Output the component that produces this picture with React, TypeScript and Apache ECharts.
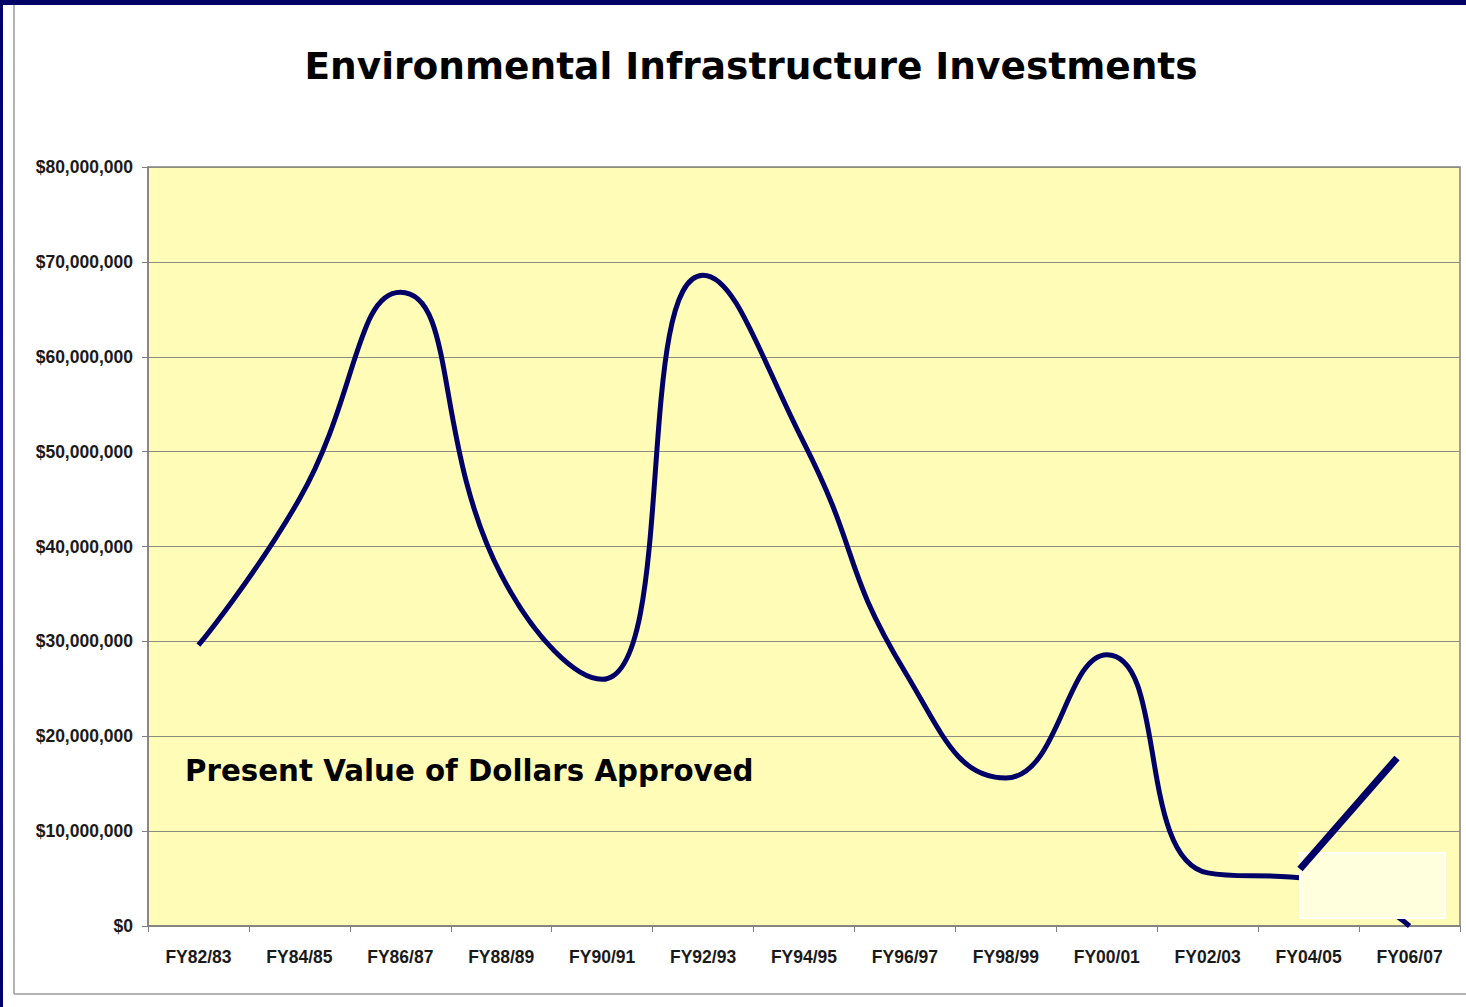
import React, { useEffect, useRef } from "react";
import * as echarts from "echarts";

const categories = [
  "FY82/83", "FY84/85", "FY86/87", "FY88/89", "FY90/91", "FY92/93", "FY94/95",
  "FY96/97", "FY98/99", "FY00/01", "FY02/03", "FY04/05", "FY06/07",
];
// Present value of dollars approved (USD)
const dollarsApproved = [
  29600000, 45000000, 66800000, 37000000, 26000000, 68600000, 50900000,
  26800000, 15600000, 28600000, 5600000, 5000000, 0,
];
const yTicks = { min: 0, max: 80000000, interval: 10000000 };
const titleText = "Environmental Infrastructure Investments";
const annotationText = "Present Value of Dollars Approved";

const NAVY = "#000066";
const GRID_GRAY = "#8c8c80";

export default function App() {
  const ref = useRef<HTMLDivElement>(null);
  useEffect(() => {
    document.body.style.margin = "0";
    const chart = echarts.init(ref.current!, null, { renderer: "svg" });
    chart.setOption({
      animation: false,
      backgroundColor: "#ffffff",
      title: {
        text: titleText,
        left: 746,
        textAlign: "center",
        top: 42,
        textStyle: {
          fontFamily: "DejaVu Sans",
          fontWeight: "bold",
          fontSize: 37.5,
          color: "#000",
        },
      },
      grid: {
        left: 148,
        top: 167,
        right: 6,
        bottom: 81,
        show: true,
        backgroundColor: "#fffcb8",
        borderColor: "#808080",
        borderWidth: 1.5,
      },
      xAxis: {
        type: "category",
        data: categories,
        boundaryGap: true,
        axisLine: { lineStyle: { color: "#808080", width: 1.5 } },
        axisTick: { show: true, length: 6, lineStyle: { color: "#808080" } },
        axisLabel: {
          margin: 22,
          fontFamily: "Liberation Sans",
          fontWeight: "bold",
          fontSize: 17.5,
          color: "#1a1a1a",
          interval: 0,
        },
        splitLine: { show: false },
      },
      yAxis: {
        type: "value",
        min: yTicks.min,
        max: yTicks.max,
        interval: yTicks.interval,
        axisLine: { show: true, lineStyle: { color: "#808080", width: 1.5 } },
        axisTick: { show: true, length: 6, lineStyle: { color: "#808080" } },
        axisLabel: {
          margin: 15,
          fontFamily: "Liberation Sans",
          fontWeight: "bold",
          fontSize: 17.5,
          color: "#1a1a1a",
          formatter: (v: number) => "$" + v.toLocaleString("en-US"),
        },
        splitLine: { show: true, lineStyle: { color: GRID_GRAY, width: 1.2 } },
      },
      series: [
        {
          type: "line",
          data: dollarsApproved,
          smooth: 0.5,
          showSymbol: false,
          lineStyle: { color: NAVY, width: 5 },
          z: 2,
        },
      ],
      graphic: [
        { type: "rect", shape: { x: 0, y: 0, width: 1466, height: 5 }, style: { fill: NAVY }, z: 100 },
        {
          type: "rect",
          shape: { x: 0, y: 0, width: 3, height: 1007 },
          style: {
            fill: new echarts.graphic.LinearGradient(0, 0, 0, 1, [
              { offset: 0, color: NAVY },
              { offset: 0.5, color: "#0000aa" },
              { offset: 1, color: NAVY },
            ]),
          },
          z: 100,
        },
        { type: "line", shape: { x1: 14, y1: 5, x2: 14, y2: 994 }, style: { stroke: "#9a9a9a", lineWidth: 1.5 }, z: 100 },
        { type: "line", shape: { x1: 14, y1: 994, x2: 1466, y2: 994 }, style: { stroke: "#9a9a9a", lineWidth: 1.5 }, z: 100 },
        {
          type: "text",
          x: 185,
          y: 771,
          style: {
            text: annotationText,
            fontFamily: "DejaVu Sans",
            fontWeight: "bold",
            fontSize: 29.3,
            fill: "#000",
            verticalAlign: "middle",
          },
          z: 100,
        },
        {
          type: "rect",
          shape: { x: 1300, y: 853, width: 145, height: 65 },
          style: { fill: "#fffedd", stroke: "#ffffff", lineWidth: 2 },
          z: 100,
        },
        {
          type: "line",
          shape: { x1: 1300, y1: 869, x2: 1397, y2: 758 },
          style: { stroke: NAVY, lineWidth: 7 },
          z: 101,
        },
      ],
    });
    return () => chart.dispose();
  }, []);
  return <div ref={ref} style={{ width: 1466, height: 1007 }} />;
}
